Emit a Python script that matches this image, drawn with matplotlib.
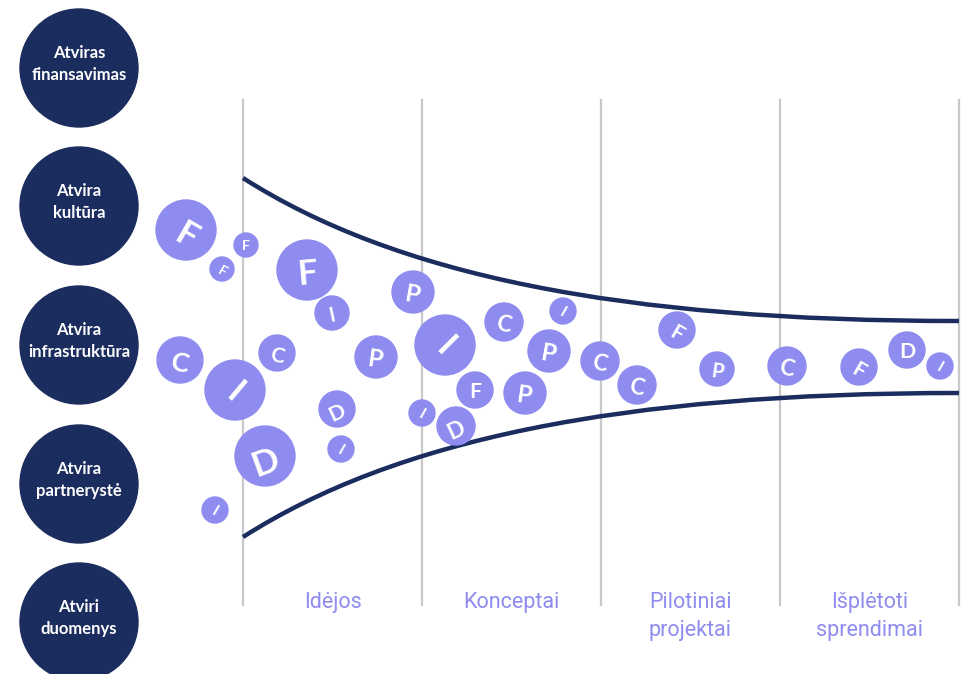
import matplotlib
matplotlib.use("Agg")
import matplotlib.pyplot as plt
from matplotlib.patches import Circle, PathPatch
from matplotlib.path import Path

# 左侧主题
themes = ["Atviras\nfinansavimas", "Atvira\nkultūra", "Atvira\ninfrastruktūra",
          "Atvira\npartnerystė", "Atviri\nduomenys"]
theme_y = [68, 206, 345, 484, 622]

# 阶段
stages = ["Idėjos", "Konceptai", "Pilotiniai\nprojektai", "Išplėtoti\nsprendimai"]
stage_edges = [243, 422, 601, 780, 959]

# 漏斗边界 (bezier 控制点)
top_curve_x = [243, 395, 620, 959]
top_curve_y = [178, 275, 321, 321]
bot_curve_x = [243, 395, 620, 959]
bot_curve_y = [537, 440, 393, 393]

# 气泡
bub_x = [186, 246, 222, 307, 332, 180, 235, 277, 376, 265, 337, 341, 215,
         413, 445, 422, 456, 475, 504, 563, 525, 549, 600, 637, 677, 717,
         787, 859, 907, 940]
bub_y = [230, 245, 269, 270, 313, 360, 390, 353, 357, 456, 409, 449, 510,
         292, 345, 413, 426, 390, 322, 311, 393, 351, 361, 385, 330, 369,
         366, 367, 350, 366]
bub_r = [30, 12, 12, 30, 17, 23, 30, 18, 21, 30, 18, 13, 13,
         21, 30, 13, 19, 18, 19, 13, 21, 21, 19, 19, 18, 17,
         19, 18, 18, 13]
bub_txt = ["F", "F", "F", "F", "I", "C", "I", "C", "P", "D", "D", "I", "I",
           "P", "I", "I", "D", "F", "C", "I", "P", "P", "C", "C", "F", "P",
           "C", "F", "D", "I"]
bub_rot = [-30, 0, -30, 5, 12, -10, -40, -10, -8, 20, 25, -30, -30,
           -10, -45, -30, 25, 0, -10, -30, -8, -10, -10, -10, -30, -8,
           -10, -30, 0, -30]

navy = "#1b2c5e"
lav = "#8f8cf0"

fig = plt.figure(figsize=(9.75, 6.74), dpi=100)
ax = fig.add_axes([0, 0, 1, 1])
ax.set_xlim(0, 975)
ax.set_ylim(674, 0)
ax.axis("off")

# 阶段分隔线
for x in stage_edges:
    ax.plot([x, x], [100, 605], color="#c8c8c8", lw=1.6, zorder=1)

# 阶段标签
for i, s in enumerate(stages):
    xc = (stage_edges[i] + stage_edges[i + 1]) / 2
    ax.text(xc, 592, s, ha="center", va="top", color=lav, fontsize=15.5,
            family="Roboto", fontweight="normal", linespacing=1.45)

# 漏斗
codes = [Path.MOVETO, Path.CURVE4, Path.CURVE4, Path.CURVE4]
for cx, cy in [(top_curve_x, top_curve_y), (bot_curve_x, bot_curve_y)]:
    p = Path(list(zip(cx, cy)), codes)
    ax.add_patch(PathPatch(p, fill=False, edgecolor=navy, lw=3.2, zorder=2))

# 左侧圆
for t, y in zip(themes, theme_y):
    ax.add_patch(Circle((79, y), 59, color=navy, zorder=3))
    ax.text(79, y - 4, t, ha="center", va="center", color="white", fontsize=12,
            family="Lato", fontweight="bold", linespacing=1.5, zorder=4)

# 气泡
for x, y, r, t, rot in zip(bub_x, bub_y, bub_r, bub_txt, bub_rot):
    ax.add_patch(Circle((x, y), r, color=lav, zorder=3))
    ax.text(x, y, t, ha="center", va="center_baseline", color="white",
            fontsize=r * 0.85, family="Lato", fontweight="bold",
            rotation=rot, zorder=4)

plt.savefig("out.png", dpi=100)
